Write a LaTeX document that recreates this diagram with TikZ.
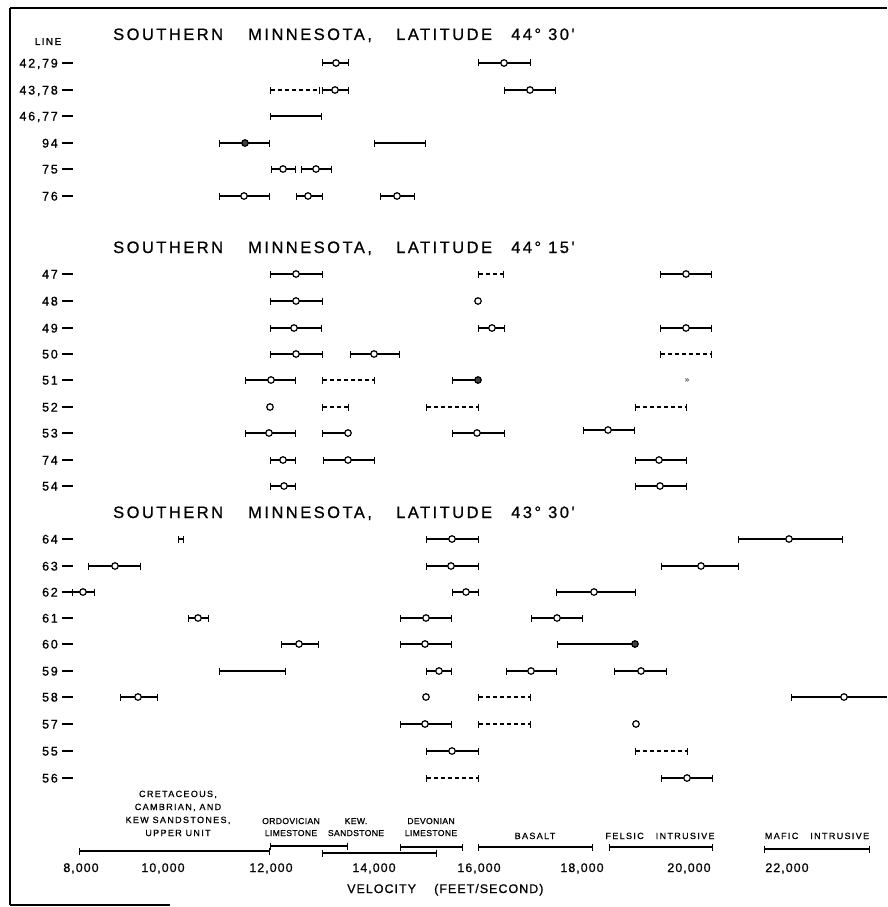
\documentclass[tikz,border=0pt]{standalone}
\usepackage{fontspec}
\setmainfont{Liberation Sans}
\newfontfamily\ttlfont[LetterSpace=15,FakeBold=0.8]{Liberation Sans}
\newfontfamily\rowfont[LetterSpace=14,FakeBold=1]{Liberation Sans}
\newfontfamily\smlfont[LetterSpace=15,FakeBold=0.8]{Liberation Sans}
\newfontfamily\smlfontb[LetterSpace=4,FakeBold=0.8]{Liberation Sans}
\newfontfamily\tckfont[LetterSpace=8,FakeBold=0.8]{Liberation Sans}
\usetikzlibrary{arrows.meta}
\begin{document}
\begin{tikzpicture}[x=1pt,y=-1pt,
  eb/.style={line width=1.5pt,{Bar[width=7pt,line width=1.2pt]}-{Bar[width=7pt,line width=1.2pt]}},
  deb/.style={eb,dash pattern=on 4pt off 3pt},
  pt/.style={circle,draw,fill=white,line width=1.2pt,inner sep=0pt,minimum size=6.5pt},
  fpt/.style={pt,fill=black!75},
  dpt/.style={pt,path picture={\fill (path picture bounding box.center) circle (1.2pt);}},
  ttl/.style={anchor=base west,inner sep=0pt,font=\ttlfont\fontsize{16.5}{18}\selectfont},
  rowl/.style={anchor=base east,inner sep=0pt,font=\rowfont\fontsize{12.5}{14}\selectfont},
  leg/.style={align=center,inner sep=0pt,font=\smlfont\fontsize{9}{13}\selectfont},
  legb/.style={align=center,inner sep=0pt,font=\smlfontb\fontsize{8.6}{12}\selectfont},
  tck/.style={anchor=base,inner sep=0pt,font=\tckfont\fontsize{12.5}{14}\selectfont},
  frame/.style={line width=2.2pt}
]
\useasboundingbox (0,0) rectangle (887,907);
% frame
\draw[frame] (10,8) -- (10,905);
\draw[line width=1.4pt] (10,8) -- (887,8);
\draw[line width=1.4pt] (10,905) -- (170,905);

% titles
\node[anchor=base,inner sep=0pt,font=\rowfont\fontsize{10}{12}\selectfont] (line) at (48,45) {LINE};
\foreach \yy/\deg [count=\i] in {40/{44° 30'},253/{44° 15'},518/{43° 30'}}{
  \node[ttl] (ta\i) at (113,\yy) {SOUTHERN};
  \node[ttl] (tb\i) at (248,\yy) {MINNESOTA,};
  \node[ttl] (tc\i) at (396,\yy) {LATITUDE};
  \node[ttl] (td\i) at (511,\yy) {\deg};
}

% row labels
\foreach \t/\y [count=\i] in {{42,79}/63,{43,78}/90,{46,77}/116,94/143,75/169,76/196,
  47/274,48/301,49/328,50/354,51/380,52/407,53/433,74/460,54/486,
  64/539,63/566,62/592,61/618,60/644,59/671,58/697,57/724,55/751,56/778}{
  \node[rowl] (r\i) at (58,\y+4.5) {\t};
  \draw[line width=1.1pt] (62,\y) -- (73,\y);
}

% solid error bars
\foreach \a/\b/\c in {322/349/63, 478/531/63, 322/349/90, 504/556/90, 270/322/116,
  219/270/143, 374/426/143, 271/296/169, 301/332/169, 219/270/196, 296/323/196, 380/415/196,
  270/323/274, 660/712/274, 270/323/301, 270/322/328, 478/505/328, 660/712/328,
  270/323/354, 350/400/354, 245/296/380, 452/478/380,
  322/348/433, 245/296/433, 452/505/433, 583/635/430,
  270/296/460, 323/375/460, 635/687/460, 270/296/486, 635/687/486,
  178/184/539, 426/479/539, 738/843/539, 88/141/566, 426/479/566, 661/739/566,
  72/95/592, 452/479/592, 556/636/592, 188/209/618, 400/452/618, 531/583/618,
  281/319/644, 400/452/644, 557/635/644,
  219/286/671, 426/452/671, 506/557/671, 614/667/671,
  120/158/697, 400/452/724, 426/479/751, 661/713/778}
  \draw[eb] (\a,\c) -- (\b,\c);
\draw[line width=1.5pt,{Bar[width=7pt,line width=1.2pt]}-] (791,697) -- (887,697);

% dashed error bars
\foreach \a/\b/\c in {270/320/90, 478/504/274, 660/712/354, 322/375/380,
  322/349/407, 426/479/407, 635/687/407,
  478/531/697, 478/531/724, 635/688/751, 426/479/778}
  \draw[deb] (\a,\c) -- (\b,\c);

% open circles
\foreach \x/\y [count=\i] in {336/63, 504/63, 335/90, 530/90, 283/169, 316/169, 244/196, 308/196, 397/196,
  296/274, 686/274, 296/301, 478/301, 294/328, 492/328, 686/328, 296/354, 374/354,
  271/380, 269/433, 348/433, 477/433, 608/430, 283/460, 348/460, 659/460, 284/486, 660/486,
  452/539, 789/539, 115/566, 451/566, 701/566, 83/592, 466/592, 594/592,
  198/618, 426/618, 557/618, 299/644, 425/644,
  439/671, 531/671, 641/671, 138/697, 844/697, 425/724, 452/751, 687/778}
  \node[pt] (o\i) at (\x,\y) {};
\foreach \x/\y [count=\i] in {245/143, 478/380, 635/644}
  \node[fpt] (f\i) at (\x,\y) {};
\foreach \x/\y [count=\i] in {270/407, 426/697, 636/724}
  \node[dpt] (d\i) at (\x,\y) {};
\node[inner sep=0pt,font=\fontsize{8}{9}\selectfont] (mk) at (687,381) {»};

% rock-type legend
\node[leg,anchor=base] (cre) at (178,836) {CRETACEOUS,\\CAMBRIAN, AND\\KEW SANDSTONES,\\UPPER UNIT};
\node[legb,anchor=base] (ord) at (291,836) {ORDOVICIAN\\LIMESTONE};
\node[legb,anchor=base] (kew) at (356,836) {KEW.\\SANDSTONE};
\node[legb,anchor=base] (dev) at (431,836) {DEVONIAN\\LIMESTONE};
\node[leg,anchor=base] (bas) at (535,839) {BASALT};
\node[leg,anchor=base] (fel) at (660,839) {FELSIC\hspace{12pt}INTRUSIVE};
\node[leg,anchor=base] (maf) at (817,839) {MAFIC\hspace{12pt}INTRUSIVE};
\foreach \a/\b/\c in {79/270/851, 270/348/846, 322/437/853, 400/463/847, 478/593/847, 609/713/847, 764/870/849}
  \draw[eb] (\a,\c) -- (\b,\c);

% velocity axis labels
\foreach \x/\t [count=\i] in {81/{8,000},163/{10,000},271/{12,000},374/{14,000},479/{16,000},582/{18,000},689/{20,000},787/{22,000}}
  \node[tck] (k\i) at (\x,872) {\t};
\node[tck,anchor=base west] (vel) at (347,893) {VELOCITY};
\node[tck,anchor=base west] (fps) at (434,893) {(FEET/SECOND)};
\end{tikzpicture}
\end{document}
